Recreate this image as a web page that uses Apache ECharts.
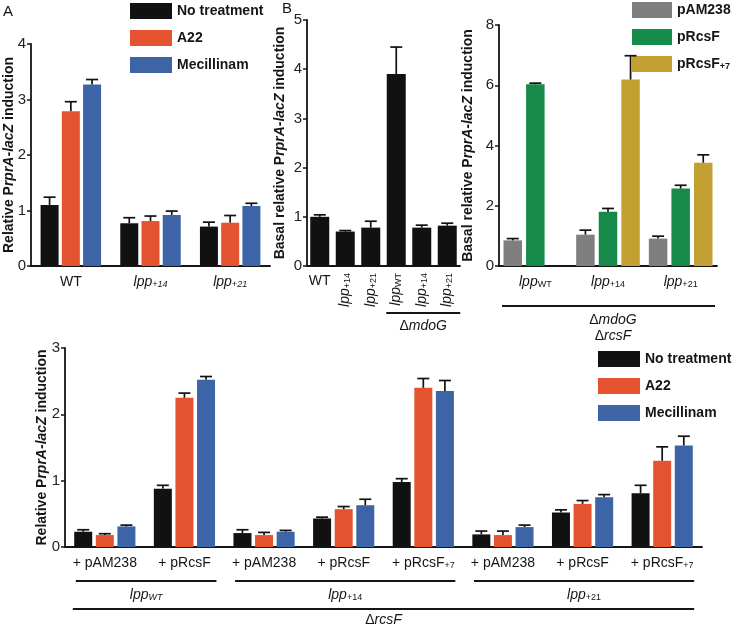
<!DOCTYPE html>
<html>
<head>
<meta charset="utf-8">
<script src="https://cdn.jsdelivr.net/npm/echarts@6/dist/echarts.min.js"></script>
<style>
  html, body { margin: 0; padding: 0; background: #fff; }
  #main { width: 733px; height: 627px; }
</style>
</head>
<body>
<div id="main"></div>
<script>
// ---- data ----
// panel A
const aCats = ['WT', 'lpp+14', 'lpp+21'];
const aLabels = ['WT', '{i|lpp}{si|+14}', '{i|lpp}{si|+21}'];
const aNone = [1.10, 0.77, 0.71];
const aNoneErr = [1.24, 0.87, 0.79];
const aA22 = [2.79, 0.81, 0.78];
const aA22Err = [2.96, 0.90, 0.91];
const aMec = [3.27, 0.92, 1.08];
const aMecErr = [3.36, 0.99, 1.13];

// panel B
const bCats = ['WT', 'lpp+14', 'lpp+21', 'mdoG lppWT', 'mdoG lpp+14', 'mdoG lpp+21'];
const bLabels = ['', '{i|lpp}{s|+14}', '{i|lpp}{s|+21}', '{i|lpp}{s|WT}', '{i|lpp}{s|+14}', '{i|lpp}{s|+21}'];
const bVals = [1.00, 0.70, 0.78, 3.90, 0.78, 0.82];
const bErr = [1.04, 0.72, 0.91, 4.45, 0.83, 0.87];

// panel C
const cCats = ['lppWT', 'lpp+14', 'lpp+21'];
const cLabels = ['{i|lpp}{s|WT}', '{i|lpp}{s|+14}', '{i|lpp}{s|+21}'];
const cPam = [0.85, 1.04, 0.91];
const cPamErr = [0.91, 1.19, 0.99];
const cRcs = [6.03, 1.80, 2.57];
const cRcsErr = [6.07, 1.91, 2.68];
const cRcs7 = [null, 6.19, 3.43];
const cRcs7Err = [null, 6.98, 3.69];

// panel D (bottom)
const dCats = ['WT pAM238', 'WT pRcsF', '14 pAM238', '14 pRcsF', '14 pRcsF7', '21 pAM238', '21 pRcsF', '21 pRcsF7'];
const dLabels = ['+ pAM238', '+ pRcsF', '+ pAM238', '+ pRcsF', '+ pRcsF{s|+7}', '+ pAM238', '+ pRcsF', '+ pRcsF{s|+7}'];
const dNone = [0.23, 0.88, 0.21, 0.43, 0.98, 0.19, 0.52, 0.81];
const dNoneErr = [0.26, 0.93, 0.26, 0.45, 1.03, 0.24, 0.56, 0.93];
const dA22 = [0.18, 2.25, 0.18, 0.57, 2.40, 0.18, 0.65, 1.30];
const dA22Err = [0.20, 2.32, 0.22, 0.61, 2.54, 0.24, 0.70, 1.51];
const dMec = [0.31, 2.52, 0.23, 0.63, 2.35, 0.30, 0.75, 1.53];
const dMecErr = [0.33, 2.57, 0.25, 0.72, 2.51, 0.33, 0.79, 1.67];

const FONT = 'Liberation Sans, Arial, sans-serif';
const INK = '#151515';
const BLACK = '#111111', RED = '#e4532f', BLUE = '#3c64a6';
const GREY = '#7f7f7f', GREEN = '#168a48', GOLD = '#c4a033';

const richLab = {
  i: { fontFamily: FONT, fontSize: 14, fontStyle: 'italic', color: INK, verticalAlign: 'bottom' },
  s: { fontFamily: FONT, fontSize: 9, color: INK, verticalAlign: 'bottom' },
  si: { fontFamily: FONT, fontSize: 9, fontStyle: 'italic', color: INK, verticalAlign: 'bottom' }
};
const richName = {
  b: { fontFamily: FONT, fontSize: 14, fontWeight: 'bold', color: INK },
  bi: { fontFamily: FONT, fontSize: 14, fontWeight: 'bold', fontStyle: 'italic', color: INK }
};

var chart = echarts.init(document.getElementById('main'));

function yAx(gi, max, step, title, gap) {
    return {
        type: 'value', gridIndex: gi, min: 0, max: max, interval: step,
        splitLine: { show: false },
        axisLine: { show: true, lineStyle: { color: INK, width: 1.8 } },
        axisTick: { show: true, length: 4, lineStyle: { color: INK, width: 1.5 } },
        axisLabel: { color: '#222', fontFamily: FONT, fontSize: 15, margin: 5 },
        name: title, nameLocation: 'middle', nameRotate: 90, nameGap: gap,
        nameMoveOverlap: false,
        nameTextStyle: { rich: richName }
    };
}

function xAx(gi, cats, labels, extra, labelExtra) {
    var ax = {
        type: 'category', gridIndex: gi, data: cats, position: 'bottom',
        axisLine: { lineStyle: { color: INK, width: 1.8 } },
        axisTick: { alignWithLabel: true, length: 5, lineStyle: { color: INK, width: 1.5 } },
        axisLabel: Object.assign({
            interval: 0, margin: 9, color: INK, fontFamily: FONT, fontSize: 14, rich: richLab,
            formatter: function (v, idx) { return labels[idx]; }
        }, labelExtra || {})
    };
    return Object.assign(ax, extra || {});
}

function barS(name, gi, xi, vals, color, w, gap) {
    return {
        name: name, type: 'bar', xAxisIndex: xi, yAxisIndex: gi, data: vals,
        barWidth: w, barGap: gap, itemStyle: { color: color }
    };
}

// error bars (upper only), placed over the bar through the axis scales
function errS(gi, xi, vals, tops, offset) {
    var data = [];
    for (let i = 0; i < vals.length; i++) {
        if (vals[i] != null) data.push([i, vals[i], tops[i]]);
    }
    return {
        type: 'custom', xAxisIndex: xi, yAxisIndex: gi, data: data, z: 5, silent: true,
        encode: { x: 0, y: [1, 2] },
        renderItem: function (params, api) {
            var p0 = api.coord([api.value(0), api.value(1)]);
            var p1 = api.coord([api.value(0), api.value(2)]);
            var x = p0[0] + offset;
            var st = { stroke: BLACK, lineWidth: 1.7 };
            return {
                type: 'group', children: [
                    { type: 'line', shape: { x1: x, y1: p0[1], x2: x, y2: p1[1] }, style: st },
                    { type: 'line', shape: { x1: x - 6, y1: p1[1], x2: x + 6, y2: p1[1] }, style: st }
                ]
            };
        }
    };
}

const legendBase = {
    orient: 'vertical', icon: 'rect', itemWidth: 42, itemHeight: 16, itemGap: 11,
    selectedMode: false, padding: 0,
    textStyle: { fontFamily: FONT, fontSize: 14, fontWeight: 'bold', color: INK,
        rich: { s: { fontFamily: FONT, fontSize: 9, fontWeight: 'bold', color: INK, verticalAlign: 'bottom' } } }
};

// bar geometry
const wA = 18, gA = 0.18, oA = wA * (1 + gA);
const wC = 18.5, gC = 0.22, oC = wC * (1 + gC);
const wD = 18, gD = 0.2, oD = wD * (1 + gD);

var option = {
    animation: false,
    backgroundColor: '#fff',
    grid: [
        { left: 31, top: 44, width: 239, height: 222 },
        { left: 307, top: 20, width: 153, height: 246 },
        { left: 499, top: 25, width: 218, height: 241 },
        { left: 65, top: 348, width: 637, height: 199 }
    ],
    xAxis: [
        xAx(0, aCats, aLabels),
        xAx(1, bCats, bLabels, { axisTick: { alignWithLabel: true, length: 4, lineStyle: { color: INK, width: 1.5 } } },
            { rotate: 90, margin: 7 }),
        xAx(1, bCats, ['WT', '', '', '', '', ''], { axisLine: { show: false }, axisTick: { show: false } }, { margin: 8 }),
        xAx(2, cCats, cLabels),
        xAx(3, dCats, dLabels)
    ],
    yAxis: [
        yAx(0, 4, 1, '{b|Relative P}{bi|rprA-lacZ}{b| induction}', 15),
        yAx(1, 5, 1, '{b|Basal relative P}{bi|rprA-lacZ}{b| induction}', 20),
        yAx(2, 8, 2, '{b|Basal relative P}{bi|rprA-lacZ}{b| induction}', 24),
        yAx(3, 3, 1, '{b|Relative P}{bi|rprA-lacZ}{b| induction}', 16)
    ],
    legend: [
        Object.assign({ left: 130, top: 3, data: ['No treatment', 'A22', 'Mecillinam'] }, legendBase),
        Object.assign({}, legendBase, { left: 632, top: 2, itemWidth: 40, data: ['pAM238', 'pRcsF', 'pRcsF+7'],
            formatter: function (n) { return n === 'pRcsF+7' ? 'pRcsF{s|+7}' : n; } }),
        Object.assign({ left: 598, top: 351, data: ['No treatment', 'A22', 'Mecillinam'] }, legendBase)
    ],
    series: [
        barS('No treatment', 0, 0, aNone, BLACK, wA, gA),
        barS('A22', 0, 0, aA22, RED, wA, gA),
        barS('Mecillinam', 0, 0, aMec, BLUE, wA, gA),
        errS(0, 0, aNone, aNoneErr, -oA),
        errS(0, 0, aA22, aA22Err, 0),
        errS(0, 0, aMec, aMecErr, oA),

        barS('basal', 1, 1, bVals, BLACK, 19, 0),
        errS(1, 1, bVals, bErr, 0),

        barS('pAM238', 2, 3, cPam, GREY, wC, gC),
        barS('pRcsF', 2, 3, cRcs, GREEN, wC, gC),
        barS('pRcsF+7', 2, 3, cRcs7, GOLD, wC, gC),
        errS(2, 3, cPam, cPamErr, -oC),
        errS(2, 3, cRcs, cRcsErr, 0),
        errS(2, 3, cRcs7, cRcs7Err, oC),

        barS('No treatment', 3, 4, dNone, BLACK, wD, gD),
        barS('A22', 3, 4, dA22, RED, wD, gD),
        barS('Mecillinam', 3, 4, dMec, BLUE, wD, gD),
        errS(3, 4, dNone, dNoneErr, -oD),
        errS(3, 4, dA22, dA22Err, 0),
        errS(3, 4, dMec, dMecErr, oD)
    ]
};
chart.setOption(option);

// ---- annotations (brackets and genotype labels) placed from the axis scales ----
function px(xi, cat) { return chart.convertToPixel({ xAxisIndex: xi }, cat); }
function py(yi, v) { return chart.convertToPixel({ yAxisIndex: yi }, v); }
const tRich = {
    n: { fontFamily: FONT, fontSize: 14, color: INK },
    i: { fontFamily: FONT, fontSize: 14, fontStyle: 'italic', color: INK, verticalAlign: 'bottom' },
    s: { fontFamily: FONT, fontSize: 9, color: INK, verticalAlign: 'bottom' },
    si: { fontFamily: FONT, fontSize: 9, fontStyle: 'italic', color: INK, verticalAlign: 'bottom' }
};
function hline(x1, x2, y) {
    return { type: 'line', shape: { x1: x1, y1: y, x2: x2, y2: y }, style: { stroke: INK, lineWidth: 2 } };
}
function label(x, y, txt, size) {
    return { type: 'text', x: x, y: y, style: { text: txt, rich: tRich, align: 'center', verticalAlign: 'middle',
        fontFamily: FONT, fontSize: size || 14, fill: INK } };
}

var g = [];
g.push({ type: 'text', x: 3, y: 4, style: { text: 'A', fontFamily: FONT, fontSize: 15, fill: INK } });
g.push({ type: 'text', x: 282, y: 1, style: { text: 'B', fontFamily: FONT, fontSize: 15, fill: INK } });

// panel B bracket
var yB = py(1, 0);
var b1 = px(1, bCats[3]) - 10, b2 = px(1, bCats[5]) + 13;
g.push(hline(b1, b2, yB + 47));
g.push(label((b1 + b2) / 2, yB + 60, '{n|Δ}{i|mdoG}'));

// panel C bracket
var yC = py(2, 0);
g.push(hline(502, 715, yC + 40));
g.push(label(613, yC + 54, '{n|Δ}{i|mdoG}'));
g.push(label(613, yC + 70, '{n|Δ}{i|rcsF}'));

// bottom panel brackets
var yD = py(3, 0);
var groups = [[0, 1, '{i|lpp}{si|WT}'], [2, 4, '{i|lpp}{s|+14}'], [5, 7, '{i|lpp}{s|+21}']];
groups.forEach(function (gr) {
    var x1 = px(4, dCats[gr[0]]) - 29, x2 = px(4, dCats[gr[1]]) + 32;
    g.push(hline(x1, x2, yD + 34));
    g.push(label((x1 + x2) / 2, yD + 48, gr[2]));
});
var dl = px(4, dCats[0]) - 32, dr = px(4, dCats[7]) + 32;
g.push(hline(dl, dr, yD + 62));
g.push(label((dl + dr) / 2, yD + 73, '{n|Δ}{i|rcsF}'));

chart.setOption({ graphic: g });
</script>
</body>
</html>
